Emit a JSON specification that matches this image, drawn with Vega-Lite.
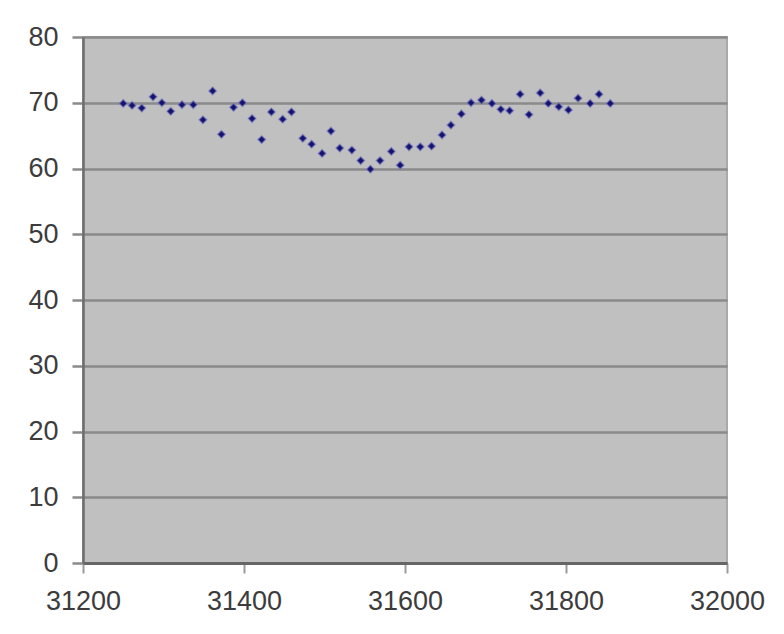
{
  "$schema": "https://vega.github.io/schema/vega-lite/v6.json",
  "autosize": "none",
  "width": 644,
  "height": 526,
  "padding": {"left": 83, "top": 37, "right": 57, "bottom": 71},
  "background": "#ffffff",
  "config": {
    "view": {"fill": "#c0c0c0", "stroke": "#a9a9a9", "strokeWidth": 2},
    "font": "Liberation Sans"
  },
  "data": {
    "values": [
      {"x": 31250, "y": 69.9}, {"x": 31261, "y": 69.6}, {"x": 31273, "y": 69.2}, {"x": 31287, "y": 70.9},
      {"x": 31298, "y": 70.0}, {"x": 31309, "y": 68.7}, {"x": 31323, "y": 69.7}, {"x": 31337, "y": 69.7},
      {"x": 31349, "y": 67.4}, {"x": 31361, "y": 71.8}, {"x": 31372, "y": 65.2}, {"x": 31387, "y": 69.3},
      {"x": 31398, "y": 70.0}, {"x": 31410, "y": 67.6}, {"x": 31422, "y": 64.4}, {"x": 31434, "y": 68.6},
      {"x": 31448, "y": 67.5}, {"x": 31459, "y": 68.6}, {"x": 31473, "y": 64.6}, {"x": 31484, "y": 63.7},
      {"x": 31497, "y": 62.3}, {"x": 31508, "y": 65.7}, {"x": 31519, "y": 63.1}, {"x": 31534, "y": 62.8},
      {"x": 31545, "y": 61.2}, {"x": 31557, "y": 59.9}, {"x": 31569, "y": 61.2}, {"x": 31583, "y": 62.6},
      {"x": 31594, "y": 60.5}, {"x": 31605, "y": 63.3}, {"x": 31619, "y": 63.3}, {"x": 31633, "y": 63.4},
      {"x": 31646, "y": 65.1}, {"x": 31657, "y": 66.6}, {"x": 31670, "y": 68.3}, {"x": 31682, "y": 70.0},
      {"x": 31695, "y": 70.4}, {"x": 31708, "y": 69.9}, {"x": 31719, "y": 69.0}, {"x": 31730, "y": 68.8},
      {"x": 31743, "y": 71.3}, {"x": 31754, "y": 68.2}, {"x": 31768, "y": 71.5}, {"x": 31778, "y": 69.9},
      {"x": 31791, "y": 69.4}, {"x": 31803, "y": 68.9}, {"x": 31815, "y": 70.7}, {"x": 31830, "y": 69.9},
      {"x": 31841, "y": 71.3}, {"x": 31855, "y": 69.9}
    ]
  },
  "mark": {"type": "point", "shape": "diamond", "filled": true, "size": 60, "color": "#14146e", "opacity": 1, "stroke": "#7c7cc4", "strokeWidth": 1.5, "strokeOpacity": 0.55},
  "encoding": {
    "x": {
      "field": "x", "type": "quantitative",
      "scale": {"domain": [31200, 32000], "nice": false, "zero": false},
      "axis": {
        "title": null, "values": [31200, 31400, 31600, 31800, 32000], "format": "d",
        "grid": false, "domainColor": "#666666", "domainWidth": 3,
        "tickColor": "#9a9a9a", "tickWidth": 2, "tickSize": 10,
        "labelFont": "Liberation Sans", "labelFontSize": 27, "labelColor": "#3c3c3c",
        "labelPadding": 15, "labelFlush": false, "labelOverlap": false
      }
    },
    "y": {
      "field": "y", "type": "quantitative",
      "scale": {"domain": [0, 80], "nice": false},
      "axis": {
        "title": null, "values": [0, 10, 20, 30, 40, 50, 60, 70, 80],
        "grid": true, "gridColor": "#8a8a8a", "gridWidth": 2.5, "gridOpacity": 1,
        "domainColor": "#6e6e6e", "domainWidth": 2.5,
        "tickColor": "#8a8a8a", "tickWidth": 2.5, "tickSize": 11,
        "labelFont": "Liberation Sans", "labelFontSize": 27, "labelColor": "#3c3c3c",
        "labelPadding": 14, "labelFlush": false, "labelOverlap": false
      }
    }
  }
}
